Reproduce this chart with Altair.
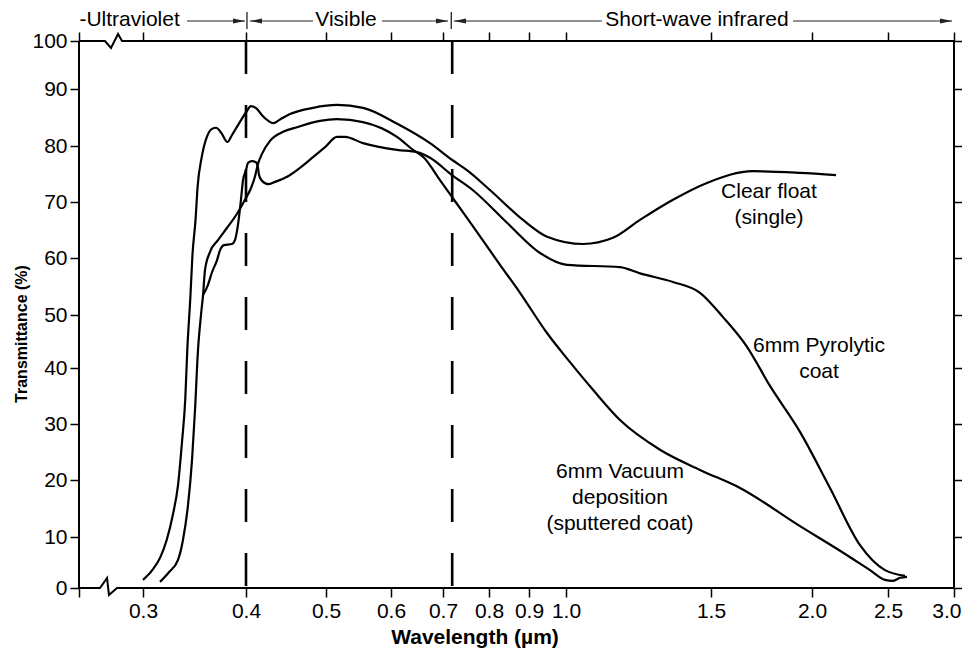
import altair as alt
import pandas as pd

# ---------------- data ----------------
clear_wl = [0.300, 0.309, 0.317, 0.323, 0.329, 0.334, 0.338, 0.341, 0.343, 0.346,
            0.348, 0.351, 0.353, 0.357, 0.362, 0.367, 0.371, 0.376, 0.382, 0.386,
            0.394, 0.401, 0.406, 0.413, 0.420, 0.428, 0.434, 0.443, 0.455, 0.484,
            0.517, 0.557, 0.612, 0.675, 0.720, 0.752, 0.803, 0.885, 0.949, 1.059,
            1.162, 1.255, 1.369, 1.486, 1.708, 1.941, 2.158]
clear_t = [1.6, 3.5, 6.1, 9.4, 13.9, 19.1, 27.1, 34.3, 43.4, 53.2,
           60.5, 66.8, 72.7, 78.0, 81.6, 83.0, 83.2, 82.3, 80.7, 81.8,
           84.2, 86.1, 87.0, 86.6, 85.4, 84.4, 84.0, 84.7, 85.6, 86.7,
           87.2, 86.7, 83.9, 80.5, 77.5, 75.7, 72.1, 66.8, 63.8, 62.5,
           63.6, 66.8, 70.4, 73.4, 75.5, 75.2, 74.8]

pyro_wl = [0.3583, 0.3631, 0.367, 0.3718, 0.3748, 0.3786, 0.3864, 0.3893, 0.3922, 0.3951,
           0.3971, 0.400, 0.4025, 0.4075, 0.4125, 0.415, 0.4163, 0.420, 0.4275, 0.4363,
           0.4525, 0.4675, 0.4838, 0.4988, 0.5169, 0.5292, 0.5569, 0.6115, 0.650, 0.675,
           0.7196, 0.7652, 0.845, 0.9297, 1.0034, 1.1862, 1.2552, 1.369, 1.4621, 1.5594,
           1.6782, 1.7921, 1.9406, 2.1184, 2.3158, 2.4803, 2.6288]
pyro_t = [53.5, 55.3, 57.5, 59.6, 61.4, 62.3, 62.5, 63.2, 65.9, 70.4,
          73.9, 75.7, 77.0, 77.3, 77.1, 76.1, 74.8, 73.8, 73.2, 73.6,
          74.6, 76.1, 78.0, 79.8, 81.6, 81.6, 80.5, 79.3, 78.9, 77.9,
          74.8, 72.1, 66.3, 60.9, 58.8, 58.4, 57.3, 55.8, 53.9, 49.6,
          44.0, 36.8, 28.6, 18.6, 8.4, 3.5, 2.4]

vac_wl = [0.3165, 0.3252, 0.334, 0.3388, 0.3437, 0.3476, 0.3505, 0.3534, 0.3563, 0.3583,
          0.3602, 0.3651, 0.3728, 0.3816, 0.3913, 0.399, 0.4063, 0.4113, 0.415, 0.420,
          0.430, 0.4463, 0.4638, 0.4925, 0.5169, 0.5569, 0.6115, 0.6423, 0.6635, 0.6942,
          0.7196, 0.7587, 0.8275, 0.8775, 0.9486, 1.0138, 1.0931, 1.1862, 1.3241, 1.4621,
          1.6436, 1.9406, 2.1842, 2.3816, 2.4803, 2.538, 2.591, 2.644]
vac_t = [1.2, 3.1, 5.5, 9.4, 15.6, 23.6, 32.5, 43.4, 50.0, 53.5,
         57.9, 61.1, 63.2, 65.4, 67.9, 70.4, 72.5, 74.6, 76.8, 78.6,
         80.9, 82.5, 83.3, 84.4, 84.7, 84.2, 81.6, 79.3, 77.9, 73.9,
         70.9, 66.4, 58.8, 53.9, 46.6, 41.1, 36.1, 30.7, 25.4, 21.8,
         18.6, 11.9, 7.3, 3.5, 1.6, 1.4, 2.0, 2.2]

x_ticks = [0.25, 0.3, 0.4, 0.5, 0.6, 0.7, 0.8, 0.9, 1.0, 1.5, 2.0, 2.5, 3.0]
y_ticks = [0, 10, 20, 30, 40, 50, 60, 70, 80, 90, 100]

band_edges = [0.4, 0.72]

region_names = ["-Ultraviolet", "Visible", "Short-wave infrared"]
region_x = [0.2895, 0.5308, 1.4517]

arrow_from = [0.3427, 0.405, 0.5862, 0.7239, 1.906]
arrow_to = [0.399, 0.4838, 0.7109, 1.1241, 2.985]
tips_right = [0.399, 0.7109, 2.985]
tips_left = [0.405, 0.7239]
region_bars = [0.4012, 0.718]

curve_labels = ["Clear float\n(single)", "6mm Pyrolytic\ncoat", "6mm Vacuum\ndeposition\n(sputtered coat)"]
curve_label_x = [1.787, 2.046, 1.186]
curve_label_y = [71.7, 44.2, 21.5]

# axis break symbols (zig-zags on the frame)
bottom_wl = [0.25, 0.2664, 0.2719, 0.2734, 0.2797, 3.0]
bottom_t = [0, 0, 1.96, -1.37, 0, 0]
top_wl = [0.25, 0.2703, 0.275, 0.2805, 0.2836, 3.0]
top_t = [100, 100, 98.54, 101.46, 100, 100]

# ---------------- build ----------------
FONT = "Liberation Sans, Arial, Helvetica, sans-serif"

xs = alt.Scale(domain=x_ticks, range=[0, 64, 167, 247, 312, 364, 410, 450, 487, 632, 733, 809, 875],
               nice=False, zero=False)
ys = alt.Scale(domain=y_ticks, range=[547, 496, 439, 383, 327, 274, 217, 161, 105, 48, 0],
               nice=False, zero=False)

rows = []
for name, wl, t in [("Clear float", clear_wl, clear_t),
                    ("6mm Pyrolytic coat", pyro_wl, pyro_t),
                    ("6mm Vacuum deposition", vac_wl, vac_t)]:
    for i, (a, b) in enumerate(zip(wl, t)):
        rows.append({"series": name, "i": i, "wl": a, "t": b})
curve_df = pd.DataFrame(rows)

common_axis = dict(domain=False, grid=False, tickColor="black", tickWidth=1.5, tickSize=9,
                   labelColor="black", labelFont=FONT, labelFontSize=21)

curves = alt.Chart(curve_df).mark_line(color="black", strokeWidth=2.2, interpolate="monotone").encode(
    x=alt.X("wl:Q", scale=xs, axis=alt.Axis(
        orient="bottom", values=x_ticks,
        labelExpr="datum.value < 0.28 ? '' : format(datum.value, '.1f')",
        labelPadding=3, labelFlush=True, labelFlushOffset=7, labelOverlap=False,
        title="Wavelength (µm)", titleFont=FONT, titleFontSize=21, titleFontWeight="bold",
        titleColor="black", titleX=395.5, titleY=55, titleBaseline="alphabetic", titleAlign="center",
        **common_axis)),
    y=alt.Y("t:Q", scale=ys, axis=alt.Axis(
        orient="left", values=y_ticks, labelPadding=3, labelOverlap=False, labelFlush=False,
        title="Transmittance (%)", titleFont=FONT, titleFontSize=16, titleFontWeight="bold",
        titleColor="black", titleX=-58, titleY=292.5, titleAngle=-90, titleBaseline="middle",
        titleAlign="center", **common_axis)),
    detail="series:N",
    order="i:Q",
)

frame_df = pd.DataFrame({"fx": [x_ticks[0], x_ticks[-1]], "fy0": [0, 0], "fy1": [100, 100]})
frame_v = alt.Chart(frame_df).mark_rule(color="black", strokeWidth=2).encode(
    x=alt.X("fx:Q", scale=xs, axis=alt.Axis(orient="top", values=x_ticks, labels=False, title=None,
                                           domain=False, grid=False, tickColor="black",
                                           tickWidth=1.5, tickSize=9)),
    y=alt.Y("fy0:Q", scale=ys, axis=alt.Axis(orient="right", values=y_ticks, labels=False, title=None,
                                            domain=False, grid=False, tickColor="black",
                                            tickWidth=1.5, tickSize=9)),
    y2="fy1:Q",
)

hrows = []
for part, wl, t in [("bottom", bottom_wl, bottom_t), ("top", top_wl, top_t)]:
    for i, (a, b) in enumerate(zip(wl, t)):
        hrows.append({"part": part, "i": i, "bx": a, "by": b})
frame_h = alt.Chart(pd.DataFrame(hrows)).mark_line(color="black", strokeWidth=2).encode(
    x=alt.X("bx:Q", scale=xs, axis=None),
    y=alt.Y("by:Q", scale=ys, axis=None),
    detail="part:N", order="i:Q",
)

dash_df = pd.DataFrame({"b": band_edges, "y0": [100] * len(band_edges), "y1": [0] * len(band_edges)})
dashed = alt.Chart(dash_df).mark_rule(color="black", strokeWidth=2.6, strokeDash=[33, 31]).encode(
    x=alt.X("b:Q", scale=xs, axis=None),
    y=alt.Y("y0:Q", scale=ys, axis=None),
    y2="y1:Q",
)

lab_df = pd.DataFrame({"label": curve_labels, "lx": curve_label_x, "ly": curve_label_y})
labels = alt.Chart(lab_df).mark_text(font=FONT, fontSize=21, color="black", lineBreak="\n",
                                     lineHeight=26, align="center", baseline="middle").encode(
    x=alt.X("lx:Q", scale=xs, axis=None),
    y=alt.Y("ly:Q", scale=ys, axis=None),
    text="label:N",
)

reg_df = pd.DataFrame({"name": region_names, "rx": region_x})
regions = alt.Chart(reg_df).mark_text(font=FONT, fontSize=21, color="black",
                                      align="center", baseline="middle").encode(
    x=alt.X("rx:Q", scale=xs, axis=None),
    y=alt.value(-21),
    text="name:N",
)

arr_df = pd.DataFrame({"a1": arrow_from, "a2": arrow_to})
arrows = alt.Chart(arr_df).mark_rule(color="#222222", strokeWidth=1.2).encode(
    x=alt.X("a1:Q", scale=xs, axis=None), x2="a2:Q", y=alt.value(-20),
)

head_r = alt.Chart(pd.DataFrame({"tip": tips_right})).mark_point(
    shape="M0,0L-2,-0.42L-2,0.42Z", size=144, filled=True, color="#222222", opacity=1, strokeWidth=0
).encode(x=alt.X("tip:Q", scale=xs, axis=None), y=alt.value(-20))

head_l = alt.Chart(pd.DataFrame({"tip": tips_left})).mark_point(
    shape="M0,0L2,-0.42L2,0.42Z", size=144, filled=True, color="#222222", opacity=1, strokeWidth=0
).encode(x=alt.X("tip:Q", scale=xs, axis=None), y=alt.value(-20))

bars = alt.Chart(pd.DataFrame({"bx": region_bars})).mark_rule(color="#222222", strokeWidth=1.3).encode(
    x=alt.X("bx:Q", scale=xs, axis=None), y=alt.value(-29), y2=alt.value(-12),
)

chart = alt.layer(curves, frame_v, frame_h, dashed, labels, regions, arrows, head_r, head_l, bars).resolve_axis(
    x="independent", y="independent"
).properties(
    width=875, height=547,
    padding={"left": 71, "top": 33, "right": 8, "bottom": 61},
    autosize=alt.AutoSizeParams(type="none"),
    background="white",
).configure_view(stroke=None)

chart.save("out.html", embed_options={"renderer": "svg", "actions": False})
